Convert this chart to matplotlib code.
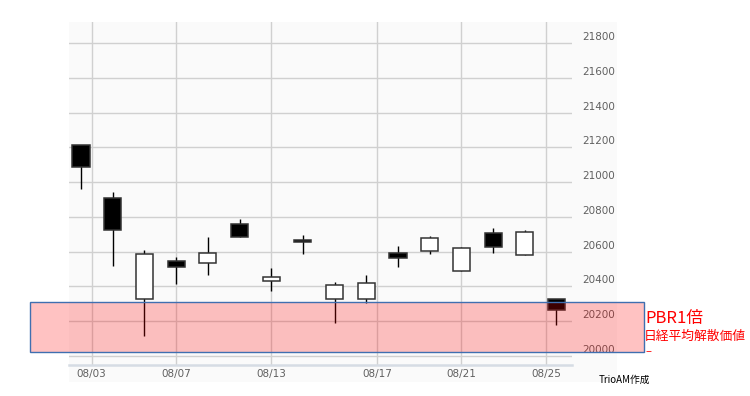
import numpy as np
import matplotlib
matplotlib.use('Agg')
import matplotlib.pyplot as plt
import matplotlib.transforms as mtransforms
from matplotlib.patches import Rectangle

# 日経平均 日足 (2019年8月)
days = [2, 5, 6, 7, 8, 9, 13, 14, 15, 16, 19, 20, 21, 22, 23, 26]
opens = [21211, 20910, 20325, 20547, 20532, 20758, 20430, 20668, 20325, 20325, 20591, 20603, 20488, 20705, 20578, 20325]
highs = [21211, 20943, 20607, 20570, 20685, 20787, 20505, 20697, 20425, 20465, 20634, 20689, 20628, 20734, 20724, 20325]
lows = [20962, 20518, 20114, 20411, 20467, 20682, 20373, 20584, 20187, 20302, 20509, 20587, 20488, 20590, 20578, 20177]
closes = [21088, 20722, 20584, 20513, 20593, 20685, 20455, 20655, 20405, 20418, 20563, 20677, 20618, 20628, 20711, 20261]

tick_labels = ['08/03', '08/07', '08/13', '08/17', '08/21', '08/25']
y_ticks = [20000, 20200, 20400, 20600, 20800, 21000, 21200, 21400, 21600, 21800]

# PBR1倍の水準
pbr_low = 20020
pbr_high = 20308

jp_font = ['Noto Sans CJK JP', 'DejaVu Sans']

fig = plt.figure(figsize=(7.5, 3.96), dpi=100)
fig.patch.set_facecolor('white')

# グラフ部分の薄いグレーの背景
fig.add_artist(Rectangle((69 / 750, 1 - 382 / 396), (617 - 69) / 750, (382 - 22) / 396,
                         transform=fig.transFigure, facecolor='#fafafa', edgecolor='none', zorder=-5))

ax = fig.add_axes([69 / 750, 1 - 365 / 396, (572 - 69) / 750, (365 - 22) / 396])
ax.set_facecolor('#fafafa')
ax.patch.set_alpha(0)

x = np.arange(len(days))
o = np.array(opens)
c = np.array(closes)
up = c >= o

# ひげ
ax.vlines(x, lows, highs, color='black', linewidth=1, zorder=2)
# 実体
ax.bar(x, np.abs(c - o), bottom=np.minimum(o, c), width=0.54,
       color=np.where(up, 'white', 'black'), edgecolor='#333333', linewidth=1.1, zorder=3)

ax.set_xlim(-0.38, 15.49)
ax.set_ylim(19947, 21921)

# 目盛り位置は営業日を日付で補間
tick_days = [int(t.split('/')[1]) for t in tick_labels]
tick_pos = np.interp(tick_days, days, x)
ax.set_xticks(tick_pos)
ax.set_xticklabels(tick_labels, color='#606060', fontsize=7.5)
ax.tick_params(axis='x', length=0, pad=3)

ax.set_yticks(y_ticks)
ax.set_yticklabels([])
ax.tick_params(axis='y', length=0)
for v in y_ticks:
    ax.annotate(str(v), xy=(1, v), xycoords=('axes fraction', 'data'),
                xytext=(7.3, 4.3), textcoords='offset points',
                ha='left', va='center', fontsize=7.5, color='#606060', annotation_clip=False)

ax.grid(True, color='#d0d0d0', linewidth=1, zorder=0)
ax.set_axisbelow(True)
for s in ['top', 'right', 'left']:
    ax.spines[s].set_visible(False)
ax.spines['bottom'].set_color('#d6dce4')
ax.spines['bottom'].set_linewidth(1.8)

# PBR1倍のゾーン (図の左から右まで)
trans = mtransforms.blended_transform_factory(fig.transFigure, ax.transData)
fig.add_artist(Rectangle((30 / 750, pbr_low), (644 - 30) / 750, pbr_high - pbr_low,
                         transform=trans, facecolor=(1, 0, 0, 0.24), edgecolor='#3f6fb0',
                         linewidth=1, zorder=5))

fig.text(645 / 750, 1 - 318 / 396, 'PBR1倍', color='red', fontsize=12,
         ha='left', va='center', family=jp_font)
fig.text(644 / 750, 1 - 336.5 / 396, '日経平均解散価値', color='red', fontsize=9.2,
         ha='left', va='center', family=jp_font)
fig.text(645 / 750, 1 - 352 / 396, '–', color='red', fontsize=8,
         ha='left', va='center', family=jp_font)

fig.text(599 / 750, 1 - 380 / 396, 'TrioAM作成', color='black', fontsize=7,
         ha='left', va='center', family=jp_font)

plt.savefig('out.png', dpi=100)
